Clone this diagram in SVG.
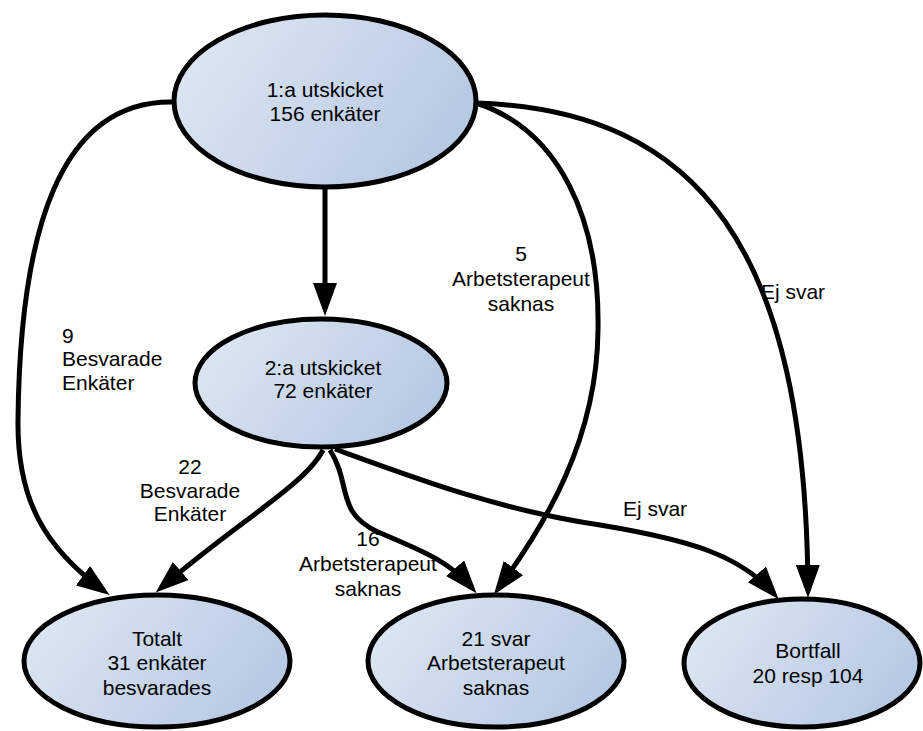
<svg xmlns="http://www.w3.org/2000/svg" width="923" height="731" viewBox="0 0 923 731">
<style>
  .node { stroke: #000; stroke-width: 5; fill: url(#g); }
  .edge { fill: none; stroke: #000; stroke-width: 5; marker-end: url(#arr); }
  text { font-family: "Liberation Sans", Arial, sans-serif; font-size: 21px; fill: #000; }
  .c { text-anchor: middle; }
</style>
<defs>
  <linearGradient id="g" x1="0" y1="0.3" x2="1" y2="0.7">
    <stop offset="0" stop-color="#dde6f2"/>
    <stop offset="1" stop-color="#b4c7e2"/>
  </linearGradient>
  <marker id="arr" markerUnits="userSpaceOnUse" markerWidth="34" markerHeight="24" refX="26" refY="12" orient="auto">
    <path d="M0,0 L33,12 L0,24 z" fill="#000"/>
  </marker>
</defs>
<g id="connectors">
  <path class="edge" d="M325,189 L325,309"/>
  <path class="edge" d="M173,102 C60,100 20,230 18,420 C17,500 45,548 104,591"/>
  <path class="edge" d="M476,103 C560,130 600,220 598,330 C597,440 545,525 498,589"/>
  <path class="edge" d="M476,103 C700,110 806,250 808,591"/>
  <path class="edge" d="M323,450 C305,485 240,520 161,588"/>
  <path class="edge" d="M330,450 C352,485 335,512 378,532 C420,550 448,560 472,588"/>
  <path class="edge" d="M335,449 C420,480 500,510 600,525 C690,540 740,555 774,594"/>
</g>
<g id="labels">
  <text x="62" y="343">9</text>
  <text x="62" y="366">Besvarade</text>
  <text x="62" y="390">Enkäter</text>
  <text class="c" x="521" y="261">5</text>
  <text class="c" x="521" y="286">Arbetsterapeut</text>
  <text class="c" x="521" y="311">saknas</text>
  <text class="c" x="793" y="299">Ej svar</text>
  <text class="c" x="190" y="474">22</text>
  <text class="c" x="190" y="498">Besvarade</text>
  <text class="c" x="190" y="521">Enkäter</text>
  <text class="c" x="368" y="546">16</text>
  <text class="c" x="368" y="571">Arbetsterapeut</text>
  <text class="c" x="368" y="596">saknas</text>
  <text class="c" x="655" y="516">Ej svar</text>
</g>
<g id="n1">
  <ellipse class="node" cx="325" cy="101" rx="151" ry="86"/>
  <text class="c" x="325" y="97">1:a utskicket</text>
  <text class="c" x="325" y="121">156 enkäter</text>
</g>
<g id="n2">
  <ellipse class="node" cx="321" cy="383" rx="126" ry="64"/>
  <text class="c" x="323" y="375">2:a utskicket</text>
  <text class="c" x="323" y="398">72 enkäter</text>
</g>
<g id="n3">
  <ellipse class="node" cx="157" cy="661" rx="133" ry="66"/>
  <text class="c" x="157" y="646">Totalt</text>
  <text class="c" x="157" y="670">31 enkäter</text>
  <text class="c" x="157" y="695">besvarades</text>
</g>
<g id="n4">
  <ellipse class="node" cx="496" cy="661" rx="128" ry="66"/>
  <text class="c" x="496" y="646">21 svar</text>
  <text class="c" x="496" y="670">Arbetsterapeut</text>
  <text class="c" x="496" y="695">saknas</text>
</g>
<g id="n5">
  <ellipse class="node" cx="802" cy="663" rx="118" ry="64"/>
  <text class="c" x="808" y="658">Bortfall</text>
  <text class="c" x="808" y="683">20 resp 104</text>
</g>
</svg>
